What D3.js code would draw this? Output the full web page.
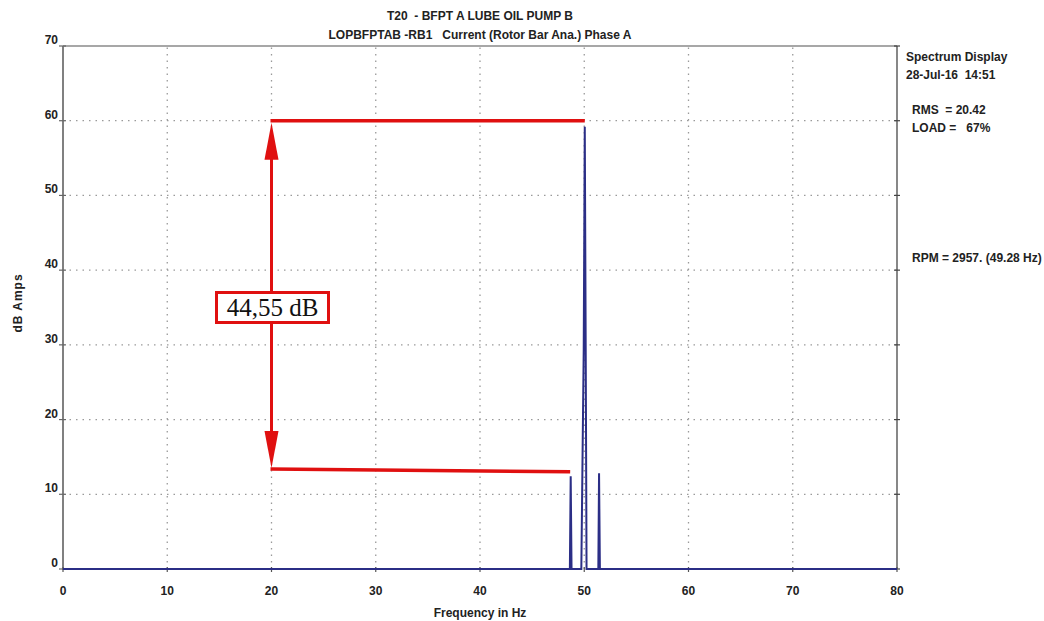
<!DOCTYPE html>
<html lang="en">
<head>
  <meta charset="UTF-8">
  <title>Spectrum Display</title>
  <script src="https://d3js.org/d3.v7.min.js"></script>
  <style>
    body {
      margin: 0;
      background: #fff;
      font-family: "Liberation Sans", Arial, sans-serif;
    }
    svg {
      display: block;
    }
    .lbl {
      font-weight: bold;
      font-size: 12px;
      fill: #222;
      white-space: pre;
    }
  </style>
</head>
<body>

<div id="chart"></div>

<script>
  // Spectrum points (frequency in Hz, amplitude in dB)
  const freqs = [0, 48.62, 48.7, 48.78, 49.72, 49.95, 50.05, 50.14, 50.22, 51.35, 51.42, 51.5, 80];
  const amps  = [0, 0, 12.4, 0, 0, 29.5, 59.2, 29.5, 0, 0, 12.8, 0, 0];

  const xTicks = [0, 10, 20, 30, 40, 50, 60, 70, 80];
  const yTicks = [0, 10, 20, 30, 40, 50, 60, 70];

  const titleLines = ["T20  - BFPT A LUBE OIL PUMP B", "LOPBFPTAB -RB1   Current (Rotor Bar Ana.) Phase A"];
  const infoTop = ["Spectrum Display", "28-Jul-16  14:51"];
  const infoMid = ["RMS  = 20.42", "LOAD =   67%"];
  const infoRpm = "RPM = 2957. (49.28 Hz)";

  // red annotation: level of the peak and of the sidebands
  const markFreq = 20;
  const peakLevel = 60, peakFreq = 50.05;
  const sideLevels = [13.4, 13.0], sideFreq = 48.65;
  const markText = "44,55 dB";
  const markLabelLevel = 35;

  const width = 1044, height = 621;
  const x = d3.scaleLinear().domain([0, 80]).range([63, 897]);
  const y = d3.scaleLinear().domain([0, 70]).range([569, 46]);

  const svg = d3.select("#chart").append("svg")
    .attr("width", width)
    .attr("height", height);

  // dotted grid
  svg.append("g").selectAll("line")
    .data(xTicks.filter(d => d > 0 && d < 80))
    .join("line")
    .attr("x1", d => x(d)).attr("x2", d => x(d))
    .attr("y1", y(0)).attr("y2", y(70))
    .attr("stroke", "#9a9a9a")
    .attr("stroke-width", 1.3)
    .attr("stroke-dasharray", "1.5,5");

  svg.append("g").selectAll("line")
    .data(yTicks.filter(d => d > 0 && d < 70))
    .join("line")
    .attr("x1", x(0)).attr("x2", x(80))
    .attr("y1", d => y(d)).attr("y2", d => y(d))
    .attr("stroke", "#9a9a9a")
    .attr("stroke-width", 1.3)
    .attr("stroke-dasharray", "1.5,5");

  // frame
  svg.append("line")
    .attr("x1", x(0)).attr("x2", x(80)).attr("y1", y(70)).attr("y2", y(70))
    .attr("stroke", "#8a8a8a").attr("stroke-width", 1.6);
  svg.append("line")
    .attr("x1", x(80)).attr("x2", x(80)).attr("y1", y(70)).attr("y2", y(0))
    .attr("stroke", "#555").attr("stroke-width", 1.4);
  svg.append("line")
    .attr("x1", x(0)).attr("x2", x(0)).attr("y1", y(70)).attr("y2", y(0) + 1)
    .attr("stroke", "#808080").attr("stroke-width", 2);

  // ticks
  svg.append("g").selectAll("line")
    .data(yTicks)
    .join("line")
    .attr("x1", x(0) - 4).attr("x2", x(0) + 3)
    .attr("y1", d => y(d)).attr("y2", d => y(d))
    .attr("stroke", "#666").attr("stroke-width", 1.2);
  svg.append("g").selectAll("line")
    .data(yTicks)
    .join("line")
    .attr("x1", x(80) - 3).attr("x2", x(80) + 3)
    .attr("y1", d => y(d)).attr("y2", d => y(d))
    .attr("stroke", "#444").attr("stroke-width", 1.2);
  svg.append("g").selectAll("line")
    .data(xTicks)
    .join("line")
    .attr("x1", d => x(d)).attr("x2", d => x(d))
    .attr("y1", y(0) - 2).attr("y2", y(0) + 3)
    .attr("stroke", "#555").attr("stroke-width", 1.2);

  // tick labels
  svg.append("g").selectAll("text")
    .data(yTicks)
    .join("text")
    .attr("class", "lbl")
    .attr("x", x(0) - 5)
    .attr("y", d => y(d) - 2)
    .attr("text-anchor", "end")
    .text(d => d);

  svg.append("g").selectAll("text")
    .data(xTicks)
    .join("text")
    .attr("class", "lbl")
    .attr("x", d => x(d))
    .attr("y", y(0) + 26)
    .attr("text-anchor", "middle")
    .text(d => d);

  // axis titles
  svg.append("text")
    .attr("class", "lbl")
    .attr("x", 480).attr("y", 617)
    .attr("text-anchor", "middle")
    .text("Frequency in Hz");

  svg.append("text")
    .attr("class", "lbl")
    .attr("transform", "translate(22,303) rotate(-90)")
    .attr("text-anchor", "middle")
    .attr("letter-spacing", "1px")
    .text("dB Amps");

  // title
  svg.append("g").selectAll("text")
    .data(titleLines)
    .join("text")
    .attr("class", "lbl")
    .attr("x", 480)
    .attr("y", (d, i) => 20 + i * 19)
    .attr("text-anchor", "middle")
    .text(d => d);

  // info panel
  svg.append("g").selectAll("text")
    .data(infoTop)
    .join("text")
    .attr("class", "lbl")
    .attr("x", 906)
    .attr("y", (d, i) => 61 + i * 18)
    .text(d => d);
  svg.append("g").selectAll("text")
    .data(infoMid)
    .join("text")
    .attr("class", "lbl")
    .attr("x", 912)
    .attr("y", (d, i) => 114 + i * 18)
    .text(d => d);
  svg.append("text")
    .attr("class", "lbl")
    .attr("x", 912).attr("y", 262)
    .text(infoRpm);

  // spectrum
  const spec = freqs.map((f, i) => [f, amps[i]]);
  svg.append("path")
    .datum(spec)
    .attr("fill", "none")
    .attr("stroke", "#2b2e86")
    .attr("stroke-width", 2)
    .attr("d", d3.line().x(d => x(d[0])).y(d => y(d[1])));

  // red annotation
  const red = "#e01010";
  const ann = svg.append("g");
  ann.append("line")
    .attr("x1", x(markFreq) - 1).attr("x2", x(peakFreq))
    .attr("y1", y(peakLevel)).attr("y2", y(peakLevel))
    .attr("stroke", red).attr("stroke-width", 3.5);
  ann.append("line")
    .attr("x1", x(markFreq) - 1).attr("x2", x(sideFreq))
    .attr("y1", y(sideLevels[0])).attr("y2", y(sideLevels[1]))
    .attr("stroke", red).attr("stroke-width", 3.5);
  ann.append("line")
    .attr("x1", x(markFreq)).attr("x2", x(markFreq))
    .attr("y1", y(peakLevel) + 20).attr("y2", y(sideLevels[0]) - 20)
    .attr("stroke", red).attr("stroke-width", 3);

  const ax = x(markFreq), yt = y(peakLevel) + 2, yb = y(sideLevels[0]) - 1;
  ann.append("path")
    .attr("d", `M${ax},${yt} L${ax - 7},${yt + 37} L${ax + 7},${yt + 37} Z`)
    .attr("fill", red);
  ann.append("path")
    .attr("d", `M${ax},${yb} L${ax - 7},${yb - 37} L${ax + 7},${yb - 37} Z`)
    .attr("fill", red);

  const ly = y(markLabelLevel);
  ann.append("rect")
    .attr("x", ax - 55).attr("y", ly - 15)
    .attr("width", 112).attr("height", 30)
    .attr("fill", "#fff")
    .attr("stroke", red).attr("stroke-width", 3);
  ann.append("text")
    .attr("x", ax + 1).attr("y", ly + 8)
    .attr("text-anchor", "middle")
    .attr("font-family", "'Liberation Serif', 'Times New Roman', serif")
    .attr("font-size", "25px")
    .attr("fill", "#111")
    .text(markText);
</script>

</body>
</html>
